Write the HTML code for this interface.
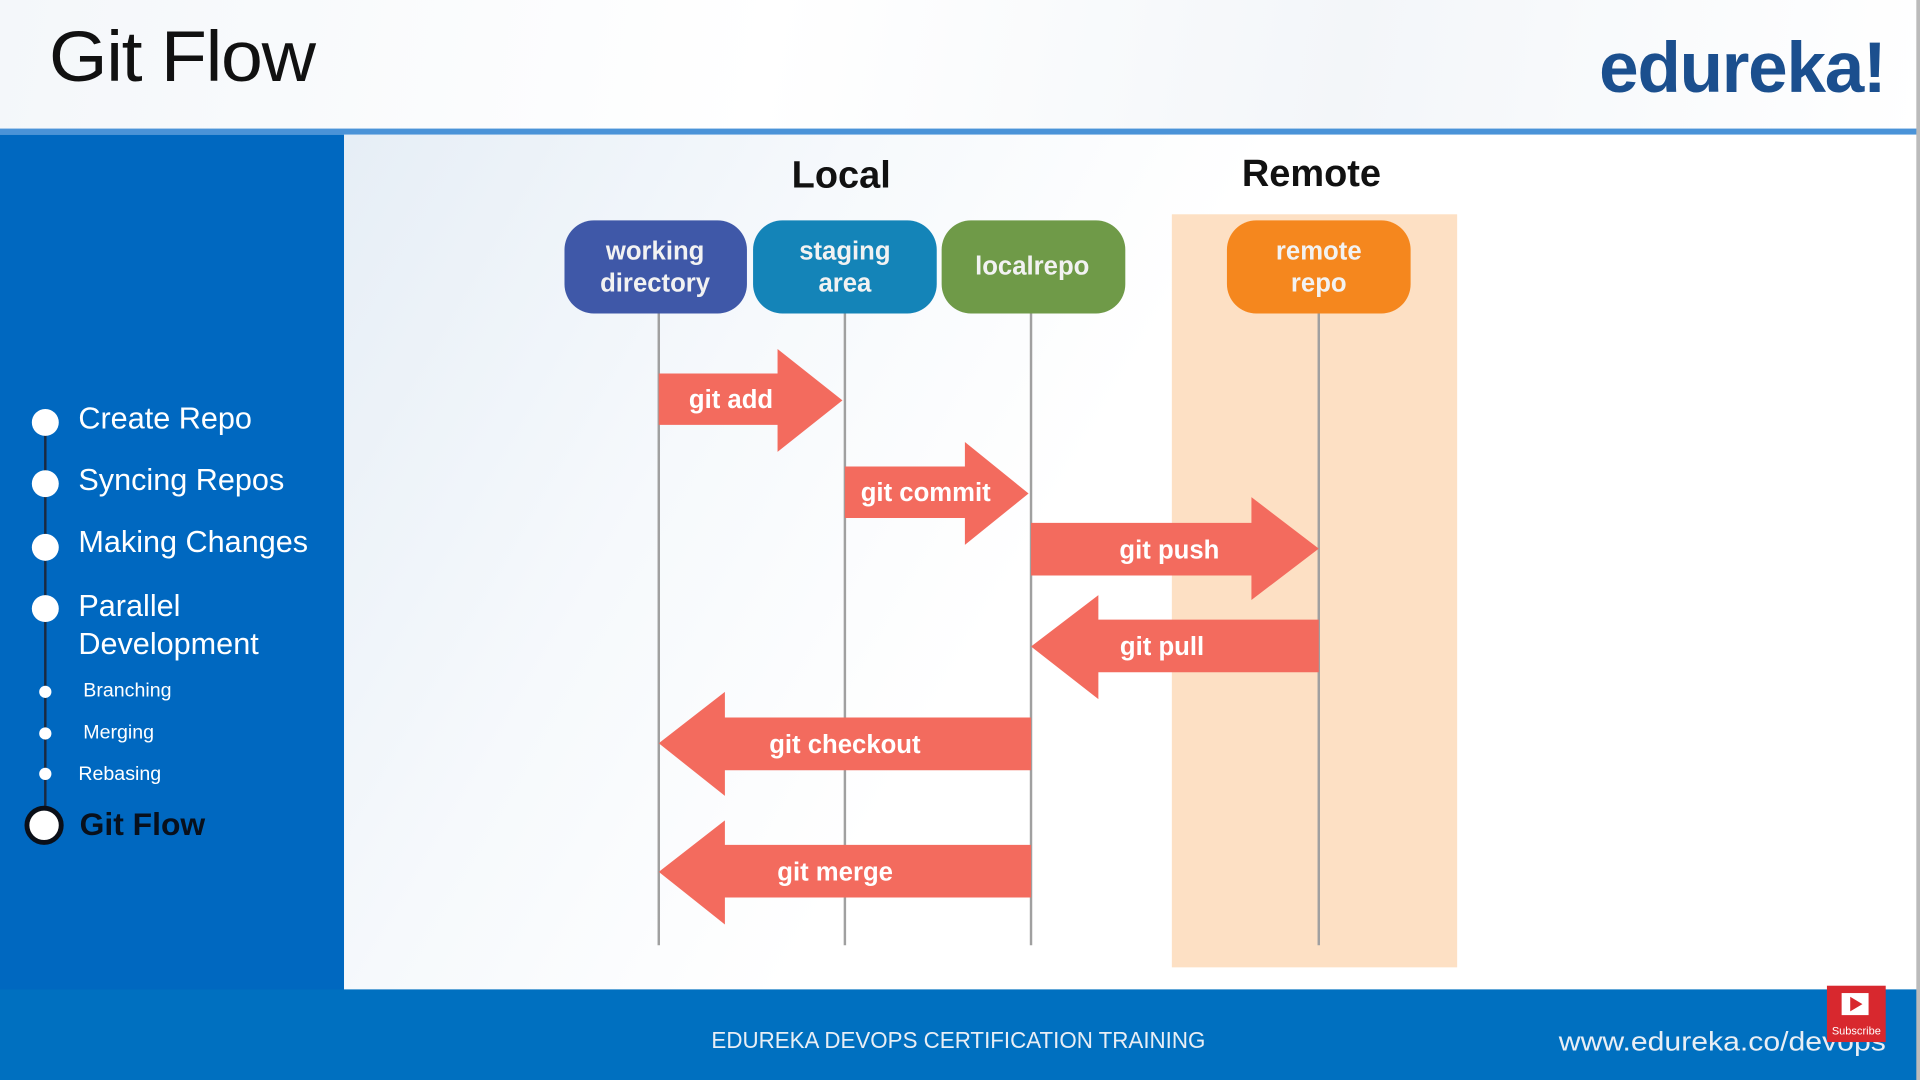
<!DOCTYPE html>
<html><head><meta charset="utf-8"><style>
html,body{margin:0;padding:0;width:1920px;height:1080px;overflow:hidden;background:#fff}
#s{position:absolute;left:0;top:0;width:1568px;height:882px;transform:scale(1.22449);transform-origin:0 0;font-family:"Liberation Sans",sans-serif;overflow:hidden}
.a{position:absolute}
</style></head><body><div id="s">
<div class="a" style="left:0;top:0;width:1568px;height:106px;background:linear-gradient(100deg,#f4f7fa,#ffffff 40%,#f3f6f9 70%,#fff)"></div>
<div class="a" style="left:40px;top:13px;font-size:58px;color:#111;letter-spacing:-1px;transform:scaleX(1.06);transform-origin:0 0">Git Flow</div>
<div class="a" style="left:1306px;top:22px;font-size:58px;font-weight:bold;color:#1b4f8e;letter-spacing:-1px">edureka!</div>
<div class="a" style="left:0;top:105px;width:1568px;height:5px;background:#4a93d8"></div>
<div class="a" style="left:0;top:110px;width:281px;height:700px;background:#0068c0"></div>
<div class="a" style="left:281px;top:110px;width:1287px;height:698px;background:linear-gradient(120deg,#e6eef6 0%,#f6f9fc 25%,#fff 45%)"></div>
<div class="a" style="left:0;top:808px;width:1568px;height:74px;background:#0070c0"></div>
<div class="a" style="left:581px;top:840px;font-size:19px;color:#e8eef5;white-space:nowrap;transform:scaleX(0.96);transform-origin:0 0">EDUREKA DEVOPS CERTIFICATION TRAINING</div>
<div class="a" style="left:1273px;top:838px;font-size:22px;color:#e8eef5;white-space:nowrap;transform:scaleX(1.12);transform-origin:0 0">www.edureka.co/devops</div>
<div class="a" style="left:1492px;top:805px;width:48px;height:46px;background:#d8282e"><div class="a" style="left:12px;top:6px;width:22px;height:18px;background:#fff"></div><div class="a" style="left:19px;top:9px;width:0;height:0;border-left:10px solid #d8282e;border-top:6px solid transparent;border-bottom:6px solid transparent"></div><div class="a" style="left:0;top:32px;width:48px;text-align:center;font-size:9px;color:#fff">Subscribe</div></div>
<div class="a" style="left:1565px;top:0;width:3px;height:882px;background:#bbb"></div>

<div class="a" style="left:36px;top:345px;width:2px;height:328px;background:#1a2a40"></div>
<div class="a" style="left:26px;top:334px;width:22px;height:22px;border-radius:50%;background:#fff"></div>
<div class="a" style="left:26px;top:384px;width:22px;height:22px;border-radius:50%;background:#fff"></div>
<div class="a" style="left:26px;top:436px;width:22px;height:22px;border-radius:50%;background:#fff"></div>
<div class="a" style="left:26px;top:486px;width:22px;height:22px;border-radius:50%;background:#fff"></div>
<div class="a" style="left:32px;top:560px;width:10px;height:10px;border-radius:50%;background:#fff"></div>
<div class="a" style="left:32px;top:594px;width:10px;height:10px;border-radius:50%;background:#fff"></div>
<div class="a" style="left:32px;top:627px;width:10px;height:10px;border-radius:50%;background:#fff"></div>
<div class="a" style="left:20px;top:658px;width:24px;height:24px;border-radius:50%;background:#fff;border:4px solid #0a0f18"></div>
<div class="a" style="left:64px;top:328px;font-size:25px;color:#fff">Create Repo</div>
<div class="a" style="left:64px;top:378px;font-size:25px;color:#fff">Syncing Repos</div>
<div class="a" style="left:64px;top:429px;font-size:25px;color:#fff">Making Changes</div>
<div class="a" style="left:64px;top:480px;font-size:25px;color:#fff;line-height:31px">Parallel<br>Development</div>
<div class="a" style="left:68px;top:556px;font-size:16px;color:#fff">Branching</div>
<div class="a" style="left:68px;top:590px;font-size:16px;color:#fff">Merging</div>
<div class="a" style="left:64px;top:624px;font-size:16px;color:#fff">Rebasing</div>
<div class="a" style="left:65px;top:658px;font-size:26px;font-weight:bold;color:#08101c">Git Flow</div>

<svg class="a" style="left:0;top:0" width="1568" height="882">
<rect x="957" y="175" width="233" height="615" fill="#fde0c4"/>
<g stroke="#a0a0a0" stroke-width="2"><line x1="538" y1="256" x2="538" y2="772"/><line x1="690" y1="256" x2="690" y2="772"/><line x1="842" y1="256" x2="842" y2="772"/><line x1="1077" y1="256" x2="1077" y2="772"/></g>
<rect x="461" y="180" width="149" height="76" rx="24" fill="#3f58a8"/>
<rect x="615" y="180" width="150" height="76" rx="24" fill="#1484b8"/>
<rect x="769" y="180" width="150" height="76" rx="24" fill="#6f9a48"/>
<rect x="1002" y="180" width="150" height="76" rx="24" fill="#f5871e"/>
<g fill="#f36b5e">
<polygon points="538,305 635,305 635,285 688,327 635,369 635,347 538,347"/>
<polygon points="690,381 788,381 788,361 840,403 788,445 788,423 690,423"/>
<polygon points="842,427 1022,427 1022,406 1077,448 1022,490 1022,470 842,470"/>
<polygon points="1077,506 897,506 897,486 842,528 897,571 897,549 1077,549"/>
<polygon points="842,586 592,586 592,565 538,607 592,650 592,629 842,629"/>
<polygon points="842,690 592,690 592,670 538,712 592,755 592,733 842,733"/>
</g>
<g font-family="Liberation Sans,sans-serif" font-weight="bold" text-anchor="middle">
<text x="687" y="153" font-size="31" fill="#111">Local</text>
<text x="1071" y="152" font-size="31" fill="#111">Remote</text>
<g fill="#f2f2f2" font-size="21"><text x="535" y="212">working</text><text x="535" y="238">directory</text>
<text x="690" y="212">staging</text><text x="690" y="238">area</text>
<text x="843" y="224">localrepo</text>
<text x="1077" y="212">remote</text><text x="1077" y="238">repo</text></g>
<g fill="#fff" font-size="21"><text x="597" y="333">git add</text><text x="756" y="409">git commit</text><text x="955" y="456">git push</text><text x="949" y="535">git pull</text><text x="690" y="615">git checkout</text><text x="682" y="719">git merge</text></g>
</g>
</svg>
</div></body></html>
